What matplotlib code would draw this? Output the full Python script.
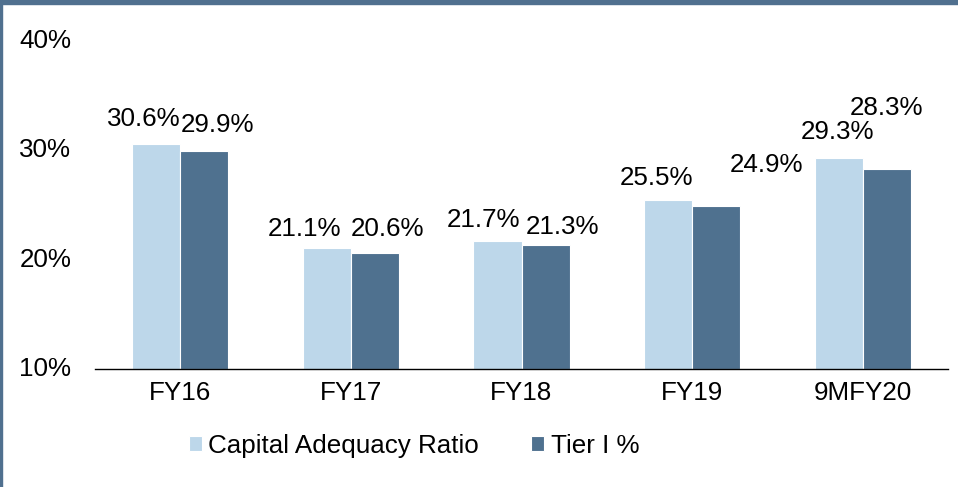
import numpy as np
import matplotlib
matplotlib.use("Agg")
import matplotlib.pyplot as plt
from matplotlib.patches import Rectangle

plt.rcParams["font.family"] = ["Liberation Sans", "DejaVu Sans"]

categories = ["FY16", "FY17", "FY18", "FY19", "9MFY20"]
car = [30.6, 21.1, 21.7, 25.5, 29.3]
tier1 = [29.9, 20.6, 21.3, 24.9, 28.3]
series_names = ["Capital Adequacy Ratio", "Tier I %"]
yticks = [10, 20, 30, 40]

# label offsets (pixels) from the top centre of each bar, as placed in the source
car_lbl_off = [(-12, 25), (-22, 19), (-14, 21), (-12, 22), (-1, 26)]
tier_lbl_off = [(13, 26), (13, 24), (17, 18), (50, 41), (0, 61)]

light = "#BDD7EA"
dark = "#4F718F"
fs = 18.7

fig = plt.figure(figsize=(9.58, 4.87), dpi=100)
ax = fig.add_axes([95 / 958, 118 / 487, 853 / 958, 328 / 487])

x = np.arange(len(categories))
w = 0.282
b1 = ax.bar(x - w / 2, np.array(car) - 10, w, bottom=10, color=light, edgecolor="white", linewidth=0.8)
b2 = ax.bar(x + w / 2, np.array(tier1) - 10, w, bottom=10, color=dark, edgecolor="white", linewidth=0.8)

for xi, v, off in zip(x - w / 2, car, car_lbl_off):
    ax.annotate(f"{v}%", (xi, v), xytext=off, textcoords="offset pixels",
                ha="center", va="center", fontsize=fs)
for xi, v, off in zip(x + w / 2, tier1, tier_lbl_off):
    ax.annotate(f"{v}%", (xi, v), xytext=off, textcoords="offset pixels",
                ha="center", va="center", fontsize=fs)

ax.set_xlim(-0.5, len(categories) - 0.5)
ax.set_ylim(10, 40)
ax.set_yticks(yticks)
ax.set_yticklabels([f"{t}%" for t in yticks], fontsize=fs)
ax.set_xticks(x)
ax.set_xticklabels(categories, fontsize=fs)
ax.tick_params(axis="y", length=0, pad=17)
ax.tick_params(axis="x", length=0, pad=9)
for s in ["top", "right", "left"]:
    ax.spines[s].set_visible(False)
ax.spines["bottom"].set_color("black")
ax.spines["bottom"].set_linewidth(1.0)
for lab in ax.get_yticklabels():
    lab.set_verticalalignment("center")

fig.legend([b1, b2], series_names, loc="center", bbox_to_anchor=(414 / 958, 1 - 446 / 487),
           ncol=2, frameon=False, fontsize=fs, handlelength=0.5, handleheight=0.5,
           handletextpad=0.25, columnspacing=2.0)

# frame decoration: band on top and thin line on the left
fig.patches.append(Rectangle((0, 1 - 4 / 487), 1, 4 / 487, transform=fig.transFigure,
                             color="#50708F", zorder=5))
fig.patches.append(Rectangle((0, 0), 2 / 958, 1, transform=fig.transFigure,
                             color="#50708F", zorder=5))

fig.savefig("out.png", dpi=100)
